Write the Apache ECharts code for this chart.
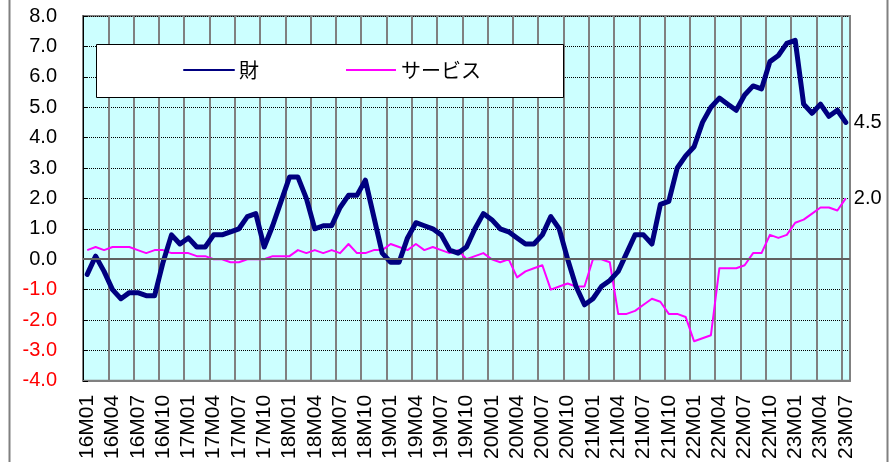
<!DOCTYPE html>
<html><head><meta charset="utf-8">
<script src="https://cdn.jsdelivr.net/npm/echarts@6/dist/echarts.min.js"></script>
<style>html,body{margin:0;padding:0;background:#fff}#c{width:894px;height:462px}</style>
</head><body><div id="c"></div>
<script>
const categories = [
 '16M01','16M02','16M03','16M04','16M05','16M06','16M07','16M08','16M09','16M10','16M11','16M12',
 '17M01','17M02','17M03','17M04','17M05','17M06','17M07','17M08','17M09','17M10','17M11','17M12',
 '18M01','18M02','18M03','18M04','18M05','18M06','18M07','18M08','18M09','18M10','18M11','18M12',
 '19M01','19M02','19M03','19M04','19M05','19M06','19M07','19M08','19M09','19M10','19M11','19M12',
 '20M01','20M02','20M03','20M04','20M05','20M06','20M07','20M08','20M09','20M10','20M11','20M12',
 '21M01','21M02','21M03','21M04','21M05','21M06','21M07','21M08','21M09','21M10','21M11','21M12',
 '22M01','22M02','22M03','22M04','22M05','22M06','22M07','22M08','22M09','22M10','22M11','22M12',
 '23M01','23M02','23M03','23M04','23M05','23M06','23M07'
];
const goods = [
 -0.5, 0.1,-0.4,-1.0,-1.3,-1.1,-1.1,-1.2,-1.2,-0.1, 0.8, 0.5,
  0.7, 0.4, 0.4, 0.8, 0.8, 0.9, 1.0, 1.4, 1.5, 0.4, 1.1, 1.9,
  2.7, 2.7, 2.0, 1.0, 1.1, 1.1, 1.7, 2.1, 2.1, 2.6, 1.4, 0.2,
 -0.1,-0.1, 0.7, 1.2, 1.1, 1.0, 0.8, 0.3, 0.2, 0.4, 1.0, 1.5,
  1.3, 1.0, 0.9, 0.7, 0.5, 0.5, 0.8, 1.4, 1.0, 0.0,-0.9,-1.5,
 -1.3,-0.9,-0.7,-0.4, 0.2, 0.8, 0.8, 0.5, 1.8, 1.9, 3.0, 3.4,
  3.7, 4.5, 5.0, 5.3, 5.1, 4.9, 5.4, 5.7, 5.6, 6.5, 6.7, 7.1,
  7.2, 5.1, 4.8, 5.1, 4.7, 4.9, 4.5
];
const services = [
  0.3, 0.4, 0.3, 0.4, 0.4, 0.4, 0.3, 0.2, 0.3, 0.3, 0.2, 0.2,
  0.2, 0.1, 0.1, 0.0, 0.0,-0.1,-0.1, 0.0, 0.0, 0.0, 0.1, 0.1,
  0.1, 0.3, 0.2, 0.3, 0.2, 0.3, 0.2, 0.5, 0.2, 0.2, 0.3, 0.3,
  0.5, 0.4, 0.3, 0.5, 0.3, 0.4, 0.3, 0.2, 0.3, 0.0, 0.1, 0.2,
  0.0,-0.1, 0.0,-0.6,-0.4,-0.3,-0.2,-1.0,-0.9,-0.8,-0.9,-0.9,
  0.0, 0.0,-0.1,-1.8,-1.8,-1.7,-1.5,-1.3,-1.4,-1.8,-1.8,-1.9,
 -2.7,-2.6,-2.5,-0.3,-0.3,-0.3,-0.2, 0.2, 0.2, 0.8, 0.7, 0.8,
  1.2, 1.3, 1.5, 1.7, 1.7, 1.6, 2.0
];
const seriesNames = ['財', 'サービス'];
const yTicks = {min: -4, max: 8, step: 1};

const FONT = '"Liberation Sans", Arial, sans-serif';
const chart = echarts.init(document.getElementById('c'), null, {renderer: 'canvas'});
chart.setOption({
  animation: false,
  backgroundColor: '#ffffff',
  grid: {left: 83, top: 16, width: 767, height: 365, show: true,
         backgroundColor: '#ccffff', borderColor: '#808080', borderWidth: 2},
  legend: {
    data: seriesNames, left: 183, top: 60, padding: 0, itemGap: 86,
    itemWidth: 50, itemHeight: 14, z: 20,
    itemStyle: {opacity: 0},
    textStyle: {fontSize: 20, color: '#000', fontFamily: '"Noto Sans CJK JP", sans-serif'}
  },
  graphic: {elements: [
    {type: 'rect', z: 15, shape: {x: 96.5, y: 44.5, width: 467, height: 53},
     style: {fill: '#ffffff', stroke: '#000000', lineWidth: 1}},
    {type: 'line', z: 15, shape: {x1: 9.5, y1: 0, x2: 9.5, y2: 462}, style: {stroke: '#808080', lineWidth: 2}},
    {type: 'line', z: 15, shape: {x1: 887.5, y1: 0, x2: 887.5, y2: 462}, style: {stroke: '#808080', lineWidth: 2}}
  ]},
  xAxis: {
    type: 'category', data: categories, boundaryGap: true,
    axisLine: {show: true, onZero: false, lineStyle: {color: '#808080', width: 2}},
    axisTick: {show: false},
    axisLabel: {interval: 2, rotate: 90, fontSize: 21, color: '#000', margin: 14, fontFamily: FONT},
    splitLine: {show: true, interval: 2, lineStyle: {color: '#808080', width: 2}}
  },
  yAxis: {
    type: 'value', min: yTicks.min, max: yTicks.max, interval: yTicks.step,
    axisLine: {show: true, lineStyle: {color: '#000', width: 1}},
    axisTick: {show: true, inside: true, length: 5, lineStyle: {color: '#000'}},
    axisLabel: {margin: 26, fontSize: 20, fontFamily: FONT,
      formatter: v => v.toFixed(1),
      color: v => (Number(v) < 0 ? '#ff0000' : '#000000')},
    splitLine: {show: true, lineStyle: {color: '#000', type: [1, 1], width: 1}}
  },
  series: [
    {name: 'zero', type: 'line', data: [], z: 1, silent: true,
     markLine: {silent: true, symbol: 'none', label: {show: false},
       lineStyle: {color: '#606060', width: 2, type: 'solid'}, data: [{yAxis: 0}]}},
    {name: seriesNames[0], type: 'line', data: goods, symbol: 'none', z: 4,
     lineStyle: {color: '#000080', width: 5, join: 'round', cap: 'round'}, itemStyle: {color: '#000080'},
     endLabel: {show: true, distance: 8, color: '#000', fontSize: 20, fontFamily: FONT,
       formatter: p => Number(p.value).toFixed(1)}},
    {name: seriesNames[1], type: 'line', data: services, symbol: 'none', z: 3,
     lineStyle: {color: '#ff00ff', width: 2, join: 'round'}, itemStyle: {color: '#ff00ff'},
     endLabel: {show: true, distance: 8, color: '#000', fontSize: 20, fontFamily: FONT,
       formatter: p => Number(p.value).toFixed(1)}}
  ]
});
</script></body></html>
